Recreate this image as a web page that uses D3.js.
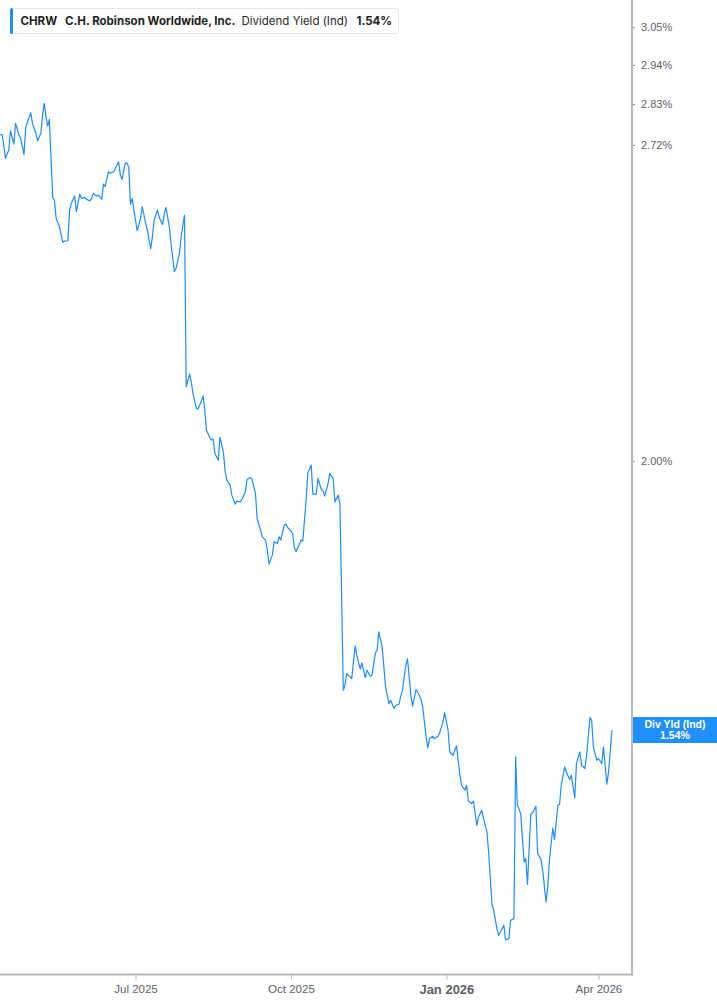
<!DOCTYPE html>
<html>
<head>
<meta charset="utf-8">
<script src="https://cdn.jsdelivr.net/npm/d3@7/dist/d3.min.js"></script>
<style>
  html, body { margin: 0; padding: 0; background: #ffffff; }
  svg { display: block; }
  .axis text { font-family: "Liberation Sans", Arial, sans-serif; }
</style>
</head>
<body>
<svg id="chart" width="717" height="1005"></svg>
<script>
// ---------------- DATA ----------------
const ticker = "CHRW";
const company = "C.H. Robinson Worldwide, Inc.";
const metric = "Dividend Yield (Ind)";
const shortMetric = "Div Yld (Ind)";

const dates = [
  "2025-04-12","2025-04-13","2025-04-14","2025-04-15","2025-04-17","2025-04-18","2025-04-20","2025-04-21","2025-04-23","2025-04-24",
  "2025-04-26","2025-04-27","2025-04-30","2025-05-01","2025-05-03","2025-05-04","2025-05-06","2025-05-07","2025-05-08","2025-05-09",
  "2025-05-10","2025-05-11","2025-05-13","2025-05-14","2025-05-15","2025-05-17","2025-05-19","2025-05-20","2025-05-22","2025-05-23",
  "2025-05-24","2025-05-26","2025-05-27","2025-05-29","2025-05-30","2025-06-01","2025-06-02","2025-06-04","2025-06-05","2025-06-06",
  "2025-06-08","2025-06-09","2025-06-11","2025-06-12","2025-06-13","2025-06-15","2025-06-16","2025-06-18","2025-06-19","2025-06-21",
  "2025-06-22","2025-06-23","2025-06-25","2025-06-26","2025-06-27","2025-06-28","2025-06-29","2025-07-01","2025-07-02","2025-07-04",
  "2025-07-05","2025-07-07","2025-07-08","2025-07-10","2025-07-11","2025-07-12","2025-07-14","2025-07-15","2025-07-17","2025-07-18",
  "2025-07-19","2025-07-21","2025-07-22","2025-07-24","2025-07-25","2025-07-27","2025-07-28","2025-07-30","2025-07-31","2025-08-02",
  "2025-08-03","2025-08-04","2025-08-06","2025-08-07","2025-08-09","2025-08-10","2025-08-11","2025-08-12","2025-08-14","2025-08-15",
  "2025-08-16","2025-08-17","2025-08-19","2025-08-20","2025-08-22","2025-08-23","2025-08-24","2025-08-26","2025-08-27","2025-08-29",
  "2025-08-30","2025-09-01","2025-09-02","2025-09-04","2025-09-05","2025-09-07","2025-09-08","2025-09-10","2025-09-11","2025-09-13",
  "2025-09-14","2025-09-16","2025-09-17","2025-09-18","2025-09-20","2025-09-21","2025-09-23","2025-09-24","2025-09-25","2025-09-27",
  "2025-09-28","2025-09-29","2025-10-01","2025-10-02","2025-10-03","2025-10-04","2025-10-06","2025-10-07","2025-10-08","2025-10-10",
  "2025-10-11","2025-10-13","2025-10-14","2025-10-16","2025-10-17","2025-10-19","2025-10-20","2025-10-21","2025-10-23","2025-10-24",
  "2025-10-26","2025-10-27","2025-10-29","2025-10-30","2025-11-01","2025-11-02","2025-11-03","2025-11-05","2025-11-06","2025-11-08",
  "2025-11-09","2025-11-11","2025-11-12","2025-11-14","2025-11-15","2025-11-17","2025-11-18","2025-11-20","2025-11-21","2025-11-22",
  "2025-11-24","2025-11-25","2025-11-26","2025-11-28","2025-11-29","2025-12-01","2025-12-02","2025-12-04","2025-12-05","2025-12-06",
  "2025-12-08","2025-12-09","2025-12-11","2025-12-12","2025-12-14","2025-12-15","2025-12-17","2025-12-18","2025-12-20","2025-12-21",
  "2025-12-22","2025-12-24","2025-12-25","2025-12-27","2025-12-28","2025-12-30","2025-12-31","2026-01-02","2026-01-03","2026-01-05",
  "2026-01-06","2026-01-07","2026-01-09","2026-01-10","2026-01-12","2026-01-13","2026-01-14","2026-01-16","2026-01-17","2026-01-19",
  "2026-01-20","2026-01-22","2026-01-23","2026-01-25","2026-01-26","2026-01-28","2026-01-29","2026-01-31","2026-02-01","2026-02-02",
  "2026-02-04","2026-02-05","2026-02-07","2026-02-08","2026-02-10","2026-02-11","2026-02-12","2026-02-14","2026-02-16","2026-02-17",
  "2026-02-18","2026-02-20","2026-02-21","2026-02-23","2026-02-24","2026-02-26","2026-02-27","2026-03-01","2026-03-02","2026-03-03",
  "2026-03-05","2026-03-06","2026-03-08","2026-03-09","2026-03-10","2026-03-12","2026-03-13","2026-03-15","2026-03-16","2026-03-18",
  "2026-03-19","2026-03-21","2026-03-22","2026-03-24","2026-03-25","2026-03-27","2026-03-28","2026-03-29","2026-03-31","2026-04-01",
  "2026-04-03","2026-04-04","2026-04-06","2026-04-07","2026-04-09"
];

const yields = [
  2.7465,2.7483,2.7200,2.6849,2.7066,2.7579,2.7225,2.7778,2.7465,2.7376,
  2.6953,2.7671,2.8066,2.7778,2.7510,2.7312,2.7510,2.8003,2.8324,2.7957,
  2.7706,2.7886,2.5849,2.5781,2.5327,2.5121,2.4743,2.4774,2.4781,2.5532,
  2.5699,2.5882,2.5490,2.5932,2.5824,2.5849,2.5799,2.5763,2.5824,2.5950,
  2.5882,2.5907,2.5799,2.6186,2.6118,2.6501,2.6460,2.6501,2.6579,2.6760,
  2.6417,2.6306,2.6734,2.6718,2.6615,2.5674,2.5824,2.5285,2.5023,2.5327,
  2.5614,2.5204,2.5040,2.4589,2.4878,2.5285,2.5532,2.5352,2.5179,2.5426,
  2.5599,2.5121,2.4718,2.4045,2.4125,2.4479,2.4878,2.5408,2.1501,2.1768,
  2.1605,2.1363,2.1054,2.1040,2.1204,2.1313,2.1019,2.0614,2.0461,2.0415,
  2.0435,2.0152,2.0021,2.0469,2.0183,1.9827,1.9635,1.9540,1.9351,1.9182,
  1.9238,1.9225,1.9270,1.9413,1.9648,1.9687,1.9648,1.9383,1.8917,1.8703,
  1.8582,1.8522,1.8343,1.8095,1.8254,1.8492,1.8463,1.8582,1.8522,1.8795,
  1.8813,1.8752,1.8690,1.8643,1.8391,1.8313,1.8450,1.8522,1.8509,1.9257,
  1.9775,1.9924,1.9370,1.9370,1.9668,1.9458,1.9432,1.9332,1.9572,1.9763,
  1.9668,1.9225,1.9351,1.9182,1.6008,1.6086,1.6270,1.6216,1.6191,1.6713,
  1.6562,1.6338,1.6438,1.6207,1.6322,1.6227,1.6243,1.6599,1.6643,1.6941,
  1.6696,1.6374,1.6059,1.5802,1.5853,1.5725,1.5776,1.5791,1.5915,1.6008,
  1.6401,1.6502,1.5930,1.5761,1.6019,1.5982,1.5864,1.5750,1.5297,1.5134,
  1.5273,1.5308,1.5273,1.5308,1.5357,1.5521,1.5658,1.5397,1.5075,1.5027,
  1.5100,1.5164,1.4738,1.4595,1.4524,1.4595,1.4373,1.4337,1.4373,1.4038,
  1.4152,1.4244,1.4130,1.3947,1.3678,1.3000,1.2924,1.2687,1.2613,1.2654,
  1.2737,1.2561,1.2573,1.2799,1.2820,1.5002,1.4314,1.4198,1.3546,1.3590,
  1.3254,1.4198,1.4206,1.4300,1.3664,1.3577,1.3436,1.3029,1.3219,1.3568,
  1.4001,1.3843,1.4314,1.4328,1.4595,1.4857,1.4785,1.4676,1.4738,1.4415,
  1.4906,1.5075,1.4882,1.4834,1.5027,1.5588,1.5547,1.5149,1.4954,1.4979,
  1.4906,1.5149,1.4609,1.4785,1.5400
];

const yTickValues = [3.05, 2.94, 2.83, 2.72, 2.00];
const xTickDates = ["2025-07-01", "2025-10-01", "2026-01-01", "2026-04-01"];
const xTickLabels = ["Jul 2025", "Oct 2025", "Jan 2026", "Apr 2026"];
const xDomain = ["2025-04-11T19:00", "2026-04-20T21:00"];
const yDomain = [1.2142, 3.1317];

// ---------------- LAYOUT ----------------
const W = 717, H = 1005;
const plotRight = 632, plotBottom = 974.5;
const lineColor = "#1e8cff";
const axisColor = "#b9b9b9";
const labelColor = "#5d6169";

const parseDay = d3.timeParse("%Y-%m-%d");
const parseDT = d3.timeParse("%Y-%m-%dT%H:%M");
const data = dates.map((d, i) => ({ date: parseDay(d), value: yields[i] }));

const svg = d3.select("#chart");

const x = d3.scaleTime()
  .domain(xDomain.map(parseDT))
  .range([0, plotRight]);

const y = d3.scaleLog()
  .domain(yDomain)
  .range([plotBottom, 0]);

svg.append("rect").attr("width", W).attr("height", H).attr("fill", "#fff");

// clip
svg.append("clipPath").attr("id", "plotclip")
  .append("rect").attr("x", 0).attr("y", 0).attr("width", plotRight).attr("height", plotBottom);

// line
const line = d3.line()
  .x(d => x(d.date))
  .y(d => y(d.value));

svg.append("path")
  .datum(data)
  .attr("clip-path", "url(#plotclip)")
  .attr("fill", "none")
  .attr("stroke", lineColor)
  .attr("stroke-width", 1.2)
  .attr("stroke-linejoin", "round")
  .attr("d", line);

// right axis
const yAxis = d3.axisRight(y)
  .tickValues(yTickValues)
  .tickSize(3)
  .tickPadding(6)
  .tickFormat(d => d3.format(".2f")(d) + "%");

const gy = svg.append("g")
  .attr("class", "axis")
  .attr("transform", `translate(${plotRight},0)`)
  .call(yAxis);
gy.select(".domain").remove();
gy.selectAll(".tick line").attr("stroke", "#8a8a8a").attr("stroke-width", 1).attr("x1", 1);
gy.selectAll(".tick text")
  .attr("fill", labelColor)
  .style("font-size", "11px");

svg.append("line")
  .attr("x1", plotRight).attr("x2", plotRight)
  .attr("y1", 0).attr("y2", plotBottom + 1)
  .attr("stroke", axisColor).attr("stroke-width", 2);

// bottom axis
const xAxis = d3.axisBottom(x)
  .tickValues(xTickDates.map(parseDay))
  .tickSize(5)
  .tickPadding(5)
  .tickFormat((d, i) => xTickLabels[i]);

const gx = svg.append("g")
  .attr("class", "axis")
  .attr("transform", `translate(0,${plotBottom})`)
  .call(xAxis);
gx.select(".domain").remove();
gx.selectAll(".tick line").attr("stroke", axisColor).attr("stroke-width", 1);
gx.selectAll(".tick text")
  .attr("fill", labelColor)
  .style("font-weight", (d, i) => xTickLabels[i].startsWith("Jan") ? "bold" : "normal")
  .style("font-size", (d, i) => xTickLabels[i].startsWith("Jan") ? "13px" : "11.5px");

svg.append("line")
  .attr("x1", 0).attr("x2", plotRight + 1)
  .attr("y1", plotBottom).attr("y2", plotBottom)
  .attr("stroke", axisColor).attr("stroke-width", 2);

// last value tag
const last = data[data.length - 1];
const tagY = y(last.value);
const tag = svg.append("g").attr("transform", `translate(${plotRight + 1},${tagY - 13})`);
tag.append("rect")
  .attr("width", W - plotRight - 1).attr("height", 26)
  .attr("fill", "#1f8fff");
tag.append("text")
  .attr("x", (W - plotRight - 1) / 2).attr("y", 10.5)
  .attr("text-anchor", "middle")
  .attr("fill", "#fff")
  .style("font-family", "'Liberation Sans', Arial, sans-serif")
  .style("font-weight", "bold").style("font-size", "10.5px")
  .text(shortMetric);
tag.append("text")
  .attr("x", (W - plotRight - 1) / 2).attr("y", 22)
  .attr("text-anchor", "middle")
  .attr("fill", "#fff")
  .style("font-family", "'Liberation Sans', Arial, sans-serif")
  .style("font-weight", "bold").style("font-size", "10.5px")
  .text(d3.format(".2f")(last.value) + "%");

// legend
const lg = svg.append("g");
lg.append("rect")
  .attr("x", 10.5).attr("y", 8.5).attr("width", 388).attr("height", 25)
  .attr("rx", 3).attr("fill", "#fff").attr("stroke", "#e4e6ea");
lg.append("rect")
  .attr("x", 10).attr("y", 8).attr("width", 3).attr("height", 26)
  .attr("rx", 1.5).attr("fill", lineColor);
const lt = lg.append("text")
  .attr("y", 25)
  .style("font-family", "Inter, 'Liberation Sans', Arial, sans-serif")
  .style("font-size", "11.5px")
  .attr("fill", "#1e1e1e");
lt.append("tspan").attr("x", 20.5).style("font-weight", "700").text(ticker);
lt.append("tspan").attr("x", 65).style("font-weight", "700").text(company);
lt.append("tspan").attr("x", 241.5).style("font-weight", "400").attr("fill", "#2a2a2a").text(metric);
lt.append("tspan").attr("x", 356.5).style("font-weight", "700").text(d3.format(".2f")(last.value) + "%");
</script>
</body>
</html>
